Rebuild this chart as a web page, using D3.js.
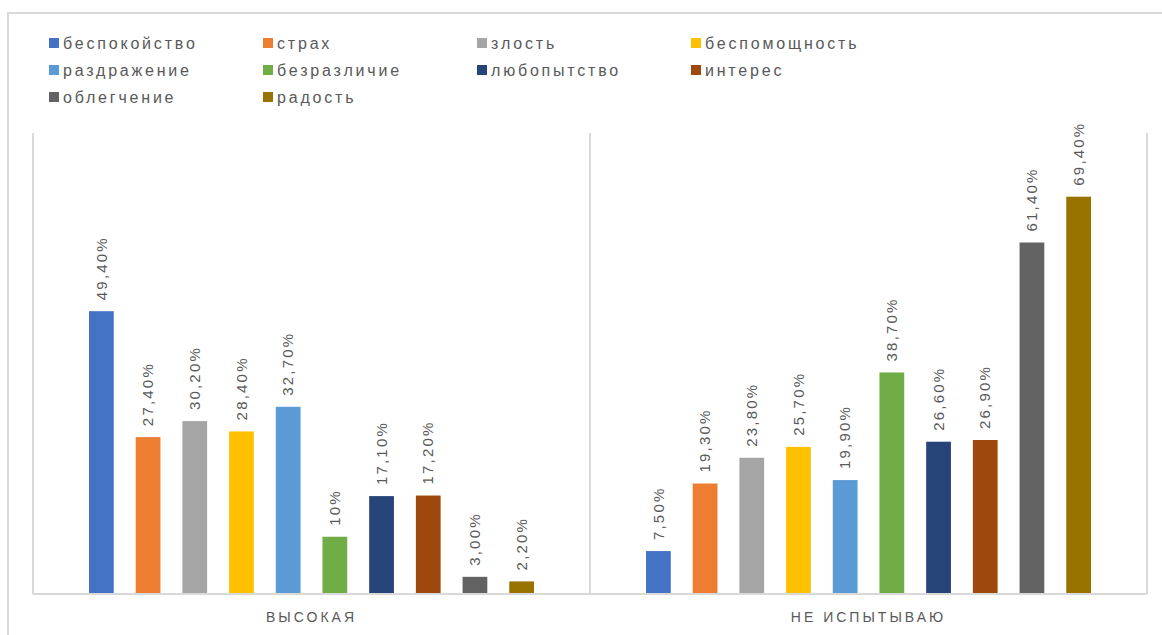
<!DOCTYPE html>
<html>
<head>
<meta charset="utf-8">
<script src="https://cdn.jsdelivr.net/npm/d3@7"></script>
<style>
  body { margin: 0; background: #fff; }
  text { font-family: "Liberation Sans", Arial, sans-serif; fill: #595959; }
</style>
</head>
<body>
<svg width="1162" height="635"></svg>
<script>
// categories and series
const categories = ["ВЫСОКАЯ", "НЕ ИСПЫТЫВАЮ"];
const series = ["беспокойство", "страх", "злость", "беспомощность", "раздражение",
                "безразличие", "любопытство", "интерес", "облегчение", "радость"];
const colors = ["#4472C4", "#ED7D31", "#A5A5A5", "#FFC000", "#5B9BD5",
                "#70AD47", "#264478", "#9E480E", "#636363", "#997300"];

// values in percent, one array per category (series order)
const highValues = [49.4, 27.4, 30.2, 28.4, 32.7, 10, 17.1, 17.2, 3.0, 2.2];
const noneValues = [7.5, 19.3, 23.8, 25.7, 19.9, 38.7, 26.6, 26.9, 61.4, 69.4];

// value labels as shown on the chart
const highLabels = ["49,40%", "27,40%", "30,20%", "28,40%", "32,70%", "10%", "17,10%", "17,20%", "3,00%", "2,20%"];
const noneLabels = ["7,50%", "19,30%", "23,80%", "25,70%", "19,90%", "38,70%", "26,60%", "26,90%", "61,40%", "69,40%"];

const svg = d3.select("svg");
const grid = "#d9d9d9";

const plot = { left: 33, right: 1147, top: 133, bottom: 594 };

// outer chart frame
svg.append("path")
  .attr("d", `M8,640 V13 H1170`)
  .attr("fill", "none").attr("stroke", grid).attr("stroke-width", 2);

const x0 = d3.scaleBand().domain(categories).range([plot.left, plot.right]);
const x1 = d3.scaleBand().domain(series)
  .range([56, x0.bandwidth() - 56]).paddingInner(0.47);
const y = d3.scaleLinear().domain([0, 80]).range([plot.bottom, 136]);

// category separator lines
const seps = [plot.left, ...categories.map(c => x0(c) + x0.bandwidth())];
svg.append("g").selectAll("line").data(seps).enter().append("line")
  .attr("x1", d => d).attr("x2", d => d)
  .attr("y1", plot.top).attr("y2", plot.bottom)
  .attr("stroke", grid).attr("stroke-width", 2);

svg.append("line")
  .attr("x1", plot.left).attr("x2", plot.right)
  .attr("y1", plot.bottom).attr("y2", plot.bottom)
  .attr("stroke", grid).attr("stroke-width", 2);

const rows = [
  { cat: categories[0], values: highValues, labels: highLabels },
  { cat: categories[1], values: noneValues, labels: noneLabels }
];

const groups = svg.append("g").selectAll("g").data(rows).enter().append("g")
  .attr("transform", d => `translate(${x0(d.cat)},0)`);

const items = groups.selectAll("g.bar")
  .data(d => d.values.map((v, i) => ({ name: series[i], v, label: d.labels[i], color: colors[i] })))
  .enter().append("g").attr("class", "bar");

items.append("rect")
  .attr("x", d => x1(d.name))
  .attr("width", x1.bandwidth())
  .attr("y", d => y(d.v))
  .attr("height", d => y(0) - y(d.v) - 1)
  .attr("fill", d => d.color);

items.append("text")
  .attr("transform", d => `translate(${x1(d.name) + x1.bandwidth() / 2},${y(d.v) - 11}) rotate(-90)`)
  .attr("dy", "0.35em")
  .attr("font-size", 15)
  .attr("letter-spacing", 2.2)
  .text(d => d.label);

// category labels
svg.append("g").selectAll("text").data(categories).enter().append("text")
  .attr("x", d => x0(d) + x0.bandwidth() / 2)
  .attr("y", 617)
  .attr("dy", "0.35em")
  .attr("text-anchor", "middle")
  .attr("font-size", 14)
  .attr("letter-spacing", 3)
  .text(d => d);

// legend, 4 per row
const legend = svg.append("g").selectAll("g").data(series).enter().append("g")
  .attr("transform", (d, i) => `translate(${49 + (i % 4) * 214},${43 + Math.floor(i / 4) * 27})`);
legend.append("rect")
  .attr("x", 0).attr("y", -5).attr("width", 10).attr("height", 10)
  .attr("fill", (d, i) => colors[i]);
legend.append("text")
  .attr("x", 14).attr("dy", "0.35em")
  .attr("font-size", 16)
  .attr("letter-spacing", 2.8)
  .text(d => d);
</script>
</body>
</html>
